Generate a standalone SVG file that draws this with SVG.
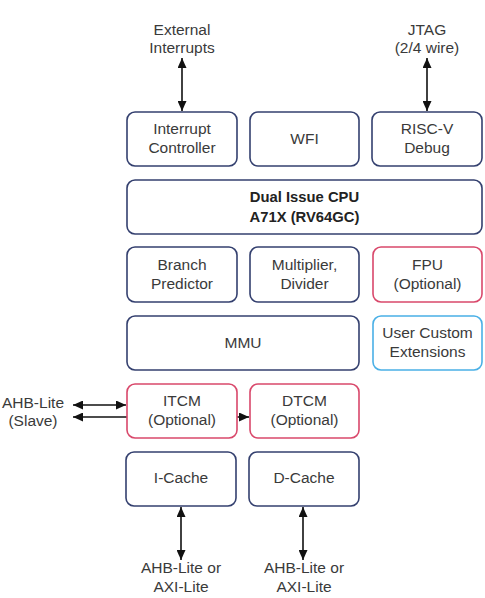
<svg xmlns="http://www.w3.org/2000/svg" width="485" height="598" viewBox="0 0 485 598">
<defs>
<style>
.n{fill:#fff;stroke:#34406f;stroke-width:1.6}
.p{fill:#fff;stroke:#d9486b;stroke-width:1.6}
.b{fill:#fff;stroke:#4ab0e6;stroke-width:1.6}
text{font-family:"Liberation Sans",Arial,sans-serif;font-size:15.5px;fill:#3a3a3a;text-anchor:middle}
.bold{font-weight:bold;fill:#222;font-size:14.8px}
.c{stroke:#111;stroke-width:1.6;fill:none}
</style>
<marker id="ah" markerUnits="userSpaceOnUse" markerWidth="10" markerHeight="9" refX="10" refY="4.5" orient="auto-start-reverse">
<path d="M0,0 L10,4.5 L0,9 Z" fill="#111"/>
</marker>
</defs>
<rect width="485" height="598" fill="#fff"/>
<g id="labels">
<text x="182" y="35">External</text>
<text x="182" y="53">Interrupts</text>
<text x="427" y="35">JTAG</text>
<text x="427" y="53">(2/4 wire)</text>
<text x="33" y="408">AHB-Lite</text>
<text x="33" y="426">(Slave)</text>
<text x="181" y="573">AHB-Lite or</text>
<text x="181" y="592">AXI-Lite</text>
<text x="304" y="573">AHB-Lite or</text>
<text x="304" y="592">AXI-Lite</text>
</g>
<g id="connectors">
<line class="c" x1="182" y1="58" x2="182" y2="111" marker-start="url(#ah)" marker-end="url(#ah)"/>
<line class="c" x1="427" y1="58" x2="427" y2="111" marker-start="url(#ah)" marker-end="url(#ah)"/>
<line class="c" x1="73" y1="405" x2="126" y2="405" marker-start="url(#ah)" marker-end="url(#ah)"/>
<line class="c" x1="127" y1="417" x2="73" y2="417" marker-end="url(#ah)"/>
<line class="c" x1="237" y1="417" x2="249" y2="417" marker-end="url(#ah)"/>
<line class="c" x1="181" y1="507" x2="181" y2="560" marker-start="url(#ah)" marker-end="url(#ah)"/>
<line class="c" x1="303" y1="507" x2="303" y2="560" marker-start="url(#ah)" marker-end="url(#ah)"/>
</g>
<g id="interrupt-controller"><rect class="n" x="127" y="112" width="110" height="54" rx="8"/><text x="182" y="134">Interrupt</text><text x="182" y="153">Controller</text></g>
<g id="wfi"><rect class="n" x="250" y="112" width="109" height="54" rx="8"/><text x="304.5" y="144">WFI</text></g>
<g id="riscv-debug"><rect class="n" x="372" y="112" width="110" height="54" rx="8"/><text x="427" y="134">RISC-V</text><text x="427" y="153">Debug</text></g>
<g id="cpu"><rect class="n" x="127" y="180" width="355" height="54" rx="8"/><text class="bold" x="304.5" y="202">Dual Issue CPU</text><text class="bold" x="304.5" y="222">A71X (RV64GC)</text></g>
<g id="branch-predictor"><rect class="n" x="127" y="247" width="110" height="55" rx="8"/><text x="182" y="270">Branch</text><text x="182" y="289">Predictor</text></g>
<g id="multiplier"><rect class="n" x="250" y="247" width="109" height="55" rx="8"/><text x="304.5" y="270">Multiplier,</text><text x="304.5" y="289">Divider</text></g>
<g id="fpu"><rect class="p" x="373" y="247" width="109" height="55" rx="8"/><text x="427.5" y="270">FPU</text><text x="427.5" y="289">(Optional)</text></g>
<g id="mmu"><rect class="n" x="127" y="316" width="232" height="54" rx="8"/><text x="243" y="348">MMU</text></g>
<g id="user-custom"><rect class="b" x="373" y="316" width="109" height="54" rx="8"/><text x="427.5" y="338">User Custom</text><text x="427.5" y="357">Extensions</text></g>
<g id="itcm"><rect class="p" x="127" y="384" width="110" height="54" rx="8"/><text x="182" y="406">ITCM</text><text x="182" y="425">(Optional)</text></g>
<g id="dtcm"><rect class="p" x="250" y="384" width="109" height="54" rx="8"/><text x="304.5" y="406">DTCM</text><text x="304.5" y="425">(Optional)</text></g>
<g id="icache"><rect class="n" x="126" y="452" width="110" height="54" rx="8"/><text x="181" y="483">I-Cache</text></g>
<g id="dcache"><rect class="n" x="249" y="452" width="110" height="54" rx="8"/><text x="304" y="483">D-Cache</text></g>
</svg>
